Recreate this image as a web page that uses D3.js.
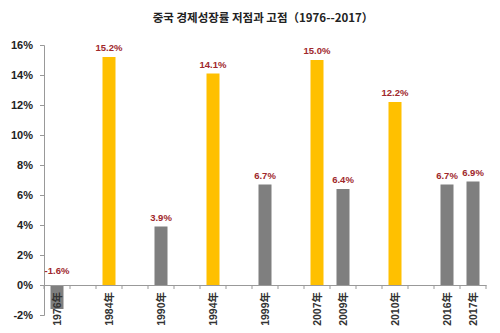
<!DOCTYPE html>
<html><head><meta charset="utf-8">
<script src="https://cdn.jsdelivr.net/npm/d3@7"></script>
<style>body{margin:0;background:#fff}svg{display:block}</style>
</head><body><svg id="c" width="500" height="333"></svg>
<script>
const titleText = "중국 경제성장률 저점과 고점（1976--2017）";
const slotLabels = ["1976年","","1984年","","1990年","","1994年","","1999年","","2007年","2009年","","2010年","","2016年","2017年"];
const slotValues = [-1.6,null,15.2,null,3.9,null,14.1,null,6.7,null,15.0,6.4,null,12.2,null,6.7,6.9];
const slotKinds  = ["low","","high","","low","","high","","low","","high","low","","high","","low","low"];
const yTicks = [-2,0,2,4,6,8,10,12,14,16];

const colors = {low:"#7f7f7f", high:"#ffc000"};
const svg = d3.select("#c");
const x = d3.scaleBand().domain(d3.range(slotLabels.length)).range([44,486]).paddingInner(0).paddingOuter(0);
const y = d3.scaleLinear().domain([-2,16]).range([315,45]);

svg.append("text").attr("x",263).attr("y",22).attr("text-anchor","middle")
  .style("font-family","'Noto Sans CJK KR'").style("font-size","11.5px").style("font-weight","bold").attr("fill","#222")
  .text(titleText);

// y axis
const ya = svg.append("g").attr("transform","translate(44,0)")
  .call(d3.axisLeft(y).tickValues(yTicks).tickFormat(d=>d+"%").tickSize(4).tickPadding(7));
ya.select(".domain").attr("stroke","#999").attr("d","M-4,45.5H0.5V315.5H-4");
ya.selectAll(".tick line").attr("stroke","#999");
ya.selectAll("text").style("font-family","Arial, 'Liberation Sans'").style("font-size","11px").style("font-weight","bold").attr("fill","#222");

// bars
const data = slotValues.map((v,i)=>({i,v,k:slotKinds[i]})).filter(d=>d.v!==null);
const bw = 13;
svg.selectAll("rect.bar").data(data).join("rect").attr("class","bar")
  .attr("x",d=>x(d.i)+x.bandwidth()/2-bw/2).attr("width",bw)
  .attr("y",d=>Math.min(y(d.v),y(0))).attr("height",d=>Math.abs(y(d.v)-y(0)))
  .attr("fill",d=>colors[d.k]);

// x axis
const xa = svg.append("g").attr("transform",`translate(0,${y(0)})`)
  .call(d3.axisBottom(x).tickSize(0).tickFormat(""));
xa.select(".domain").attr("stroke","#999");
xa.selectAll(".tick").remove();
const bounds = d3.range(slotLabels.length+1).map(i=>x.range()[0]+i*x.step());
xa.selectAll("line.tk").data(bounds).join("line").attr("class","tk")
  .attr("x1",d=>d).attr("x2",d=>d).attr("y1",0).attr("y2",4).attr("stroke","#999");

// x labels
svg.selectAll("text.xl").data(slotLabels.map((l,i)=>({l,i})).filter(d=>d.l)).join("text").attr("class","xl")
  .attr("transform",d=>`translate(${x(d.i)+x.bandwidth()/2+4},292) rotate(-90)`)
  .attr("text-anchor","end")
  .style("font-family","Arial, 'Liberation Sans', 'Noto Sans CJK SC'").style("font-size","10.5px").style("font-weight","bold").attr("fill","#333")
  .text(d=>d.l);

// value labels
svg.selectAll("text.vl").data(data).join("text").attr("class","vl")
  .attr("x",d=>x(d.i)+x.bandwidth()/2).attr("y",d=>d.v<0? y(0)-11 : y(d.v)-6)
  .attr("text-anchor","middle")
  .style("font-family","Arial, 'Liberation Sans'").style("font-size","9.5px").style("font-weight","bold").attr("fill","#a0282c")
  .text(d=>d.v.toFixed(1)+"%");
</script></body></html>
